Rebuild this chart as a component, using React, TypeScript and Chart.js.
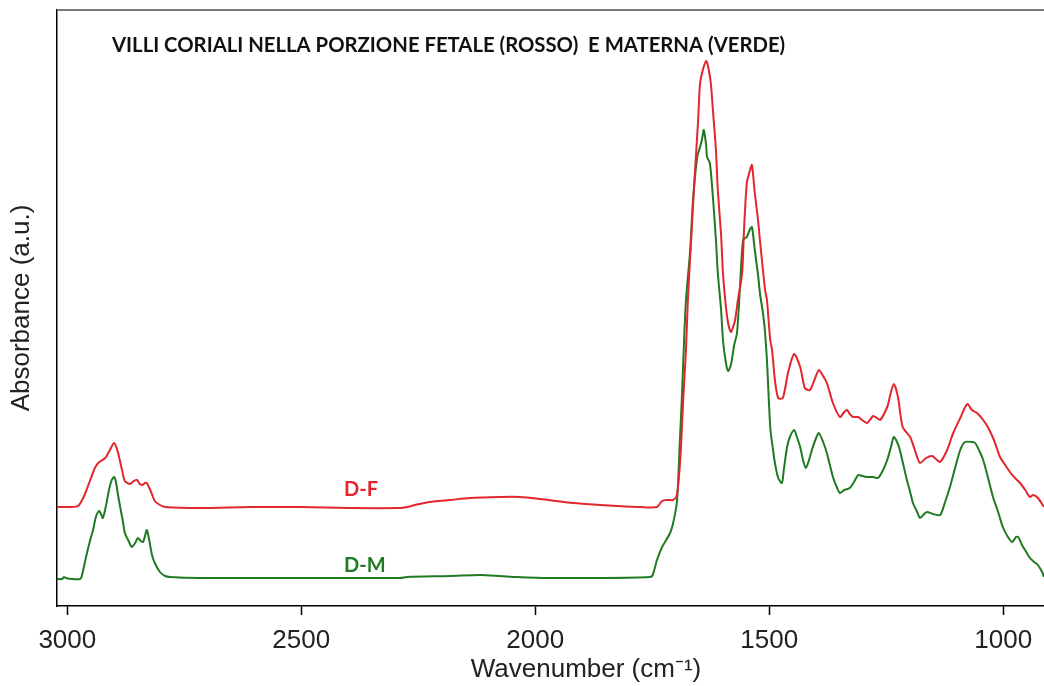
import React, { useEffect, useRef } from "react";
import { Chart, registerables } from "chart.js";

Chart.register(...registerables);

const chartTitle = "VILLI CORIALI NELLA PORZIONE FETALE (ROSSO)  E MATERNA (VERDE)";
const xAxisTitle = "Wavenumber (cm\u207B\u00B9)";
const yAxisTitle = "Absorbance (a.u.)";
const xTickValues = [3000, 2500, 2000, 1500, 1000];

// D-F (fetal portion, red)
const dfWavenumber = [
  3022, 2994, 2977, 2964, 2951, 2941, 2934, 2919, 2909, 2900, 2892, 2883, 2877, 2866, 2858, 2851, 2845, 2840, 2834, 2830,
  2821, 2813, 2802, 2791, 2716, 2610, 2503, 2396, 2289, 2274, 2257, 2225, 2182, 2140, 2075, 2033, 1990, 1919, 1862, 1825,
  1776, 1740, 1729, 1716, 1706, 1699, 1695, 1689, 1684, 1678, 1674, 1667, 1659, 1652, 1648, 1642, 1635, 1631, 1625, 1620,
  1614, 1610, 1603, 1599, 1593, 1588, 1582, 1578, 1573, 1567, 1558, 1554, 1548, 1541, 1537, 1531, 1524, 1520, 1509, 1505,
  1498, 1494, 1488, 1481, 1471, 1460, 1447, 1434, 1424, 1413, 1402, 1394, 1385, 1377, 1364, 1349, 1340, 1334, 1328, 1321,
  1310, 1302, 1291, 1278, 1270, 1263, 1248, 1242, 1234, 1225, 1215, 1199, 1189, 1178, 1165, 1152, 1144, 1135, 1120, 1107,
  1092, 1077, 1067, 1056, 1043, 1033, 1020, 1007, 996, 986, 975, 964, 953, 943, 936, 926, 913,
];
const dfAbsorbance = [
  99, 99, 100, 110, 126, 138, 143, 148, 156, 163, 154, 136, 125, 122, 125, 126, 122, 121, 123, 123,
  114, 105, 101, 99, 98, 99, 99, 98, 98, 99, 101, 104, 106, 108, 109, 109, 107, 103, 101, 100,
  99, 99, 105, 106, 106, 109, 119, 156, 206, 256, 306, 366, 433, 486, 522, 536, 545, 540, 523, 493,
  456, 416, 371, 333, 301, 283, 274, 278, 286, 306, 333, 376, 423, 436, 441, 413, 386, 366, 316, 306,
  266, 256, 226, 208, 208, 233, 252, 239, 218, 216, 228, 236, 230, 223, 203, 189, 194, 196, 192, 189,
  189, 186, 183, 190, 188, 186, 199, 210, 222, 209, 179, 169, 156, 143, 148, 150, 147, 144, 156, 173,
  188, 202, 196, 193, 186, 179, 166, 149, 141, 134, 128, 123, 116, 109, 111, 108, 99,
];

// D-M (maternal portion, green)
const dmWavenumber = [
  3022, 3011, 3007, 3003, 2990, 2973, 2969, 2960, 2951, 2945, 2939, 2932, 2928, 2924, 2917, 2911, 2905, 2900, 2896, 2892,
  2887, 2881, 2877, 2870, 2862, 2855, 2849, 2843, 2838, 2834, 2830, 2825, 2819, 2813, 2802, 2791, 2781, 2716, 2610, 2503,
  2396, 2289, 2274, 2182, 2118, 2075, 2039, 1969, 1862, 1755, 1749, 1740, 1729, 1712, 1704, 1697, 1691, 1687, 1682, 1678,
  1669, 1663, 1654, 1648, 1644, 1640, 1635, 1633, 1627, 1620, 1614, 1610, 1603, 1599, 1593, 1588, 1582, 1575, 1569, 1563,
  1556, 1548, 1541, 1537, 1531, 1524, 1520, 1513, 1509, 1505, 1498, 1492, 1488, 1481, 1473, 1469, 1462, 1456, 1447, 1441,
  1434, 1428, 1422, 1415, 1409, 1400, 1394, 1385, 1377, 1364, 1355, 1349, 1340, 1328, 1319, 1310, 1302, 1291, 1278, 1268,
  1259, 1248, 1240, 1234, 1227, 1221, 1212, 1206, 1199, 1193, 1184, 1178, 1169, 1163, 1150, 1135, 1125, 1114, 1103, 1092,
  1082, 1067, 1060, 1050, 1043, 1033, 1022, 1011, 1001, 990, 981, 973, 968, 960, 951, 943, 934, 926, 917, 913,
];
const dmAbsorbance = [
  27, 27, 29, 28, 27, 27, 30, 49, 66, 76, 89, 95, 92, 88, 101, 116, 126, 129, 124, 112,
  99, 84, 73, 66, 59, 63, 68, 65, 64, 70, 76, 66, 51, 43, 34, 30, 29, 28, 28, 28,
  28, 28, 29, 30, 31, 30, 29, 28, 28, 29, 31, 46, 59, 73, 86, 106, 166, 206, 266, 306,
  356, 406, 449, 459, 466, 476, 461, 449, 443, 406, 366, 333, 296, 266, 244, 235, 241, 261, 273, 316,
  366, 369, 377, 379, 356, 331, 313, 291, 273, 246, 179, 156, 143, 128, 123, 136, 159, 169, 176, 169,
  159, 146, 138, 146, 156, 168, 173, 164, 153, 129, 118, 113, 116, 118, 124, 131, 130, 129, 129, 128,
  134, 146, 159, 169, 164, 156, 138, 126, 114, 103, 94, 88, 92, 94, 92, 91, 103, 119, 138, 156,
  164, 164, 163, 154, 146, 129, 109, 94, 79, 69, 64, 69, 69, 61, 54, 48, 44, 41, 34, 29,
];

const seriesLabels = ["D-F", "D-M"];
const seriesColors = ["#e3262d", "#1f7a22"];

export default function App() {
  const canvasRef = useRef<HTMLCanvasElement | null>(null);

  useEffect(() => {
    const canvas = canvasRef.current;
    if (!canvas) return;

    const overlay = {
      id: "overlay",
      afterDraw(chart: any) {
        const { ctx, chartArea } = chart;
        ctx.save();
        // top frame line
        ctx.strokeStyle = "#7a7a7a";
        ctx.lineWidth = 2;
        ctx.beginPath();
        ctx.moveTo(chartArea.left, chartArea.top);
        ctx.lineTo(chartArea.right, chartArea.top);
        ctx.stroke();
        // title
        ctx.fillStyle = "#111";
        ctx.font = "bold 20.3px Lato";
        ctx.textAlign = "left";
        ctx.textBaseline = "alphabetic";
        ctx.fillText(chartTitle, 112, 52);
        // series labels
        ctx.font = "bold 20px Lato";
        ctx.fillStyle = seriesColors[0];
        ctx.fillText(seriesLabels[0], 344, 496);
        ctx.fillStyle = seriesColors[1];
        ctx.fillText(seriesLabels[1], 344, 572);
        // x axis title
        ctx.fillStyle = "#222";
        ctx.font = "26px 'Liberation Sans', Arial";
        ctx.textAlign = "center";
        ctx.textBaseline = "middle";
        ctx.fillText(xAxisTitle, 586, 670);
        ctx.restore();
      },
    };

    const chart = new Chart(canvas, {
      type: "line",
      data: {
        datasets: [
          {
            label: seriesLabels[0],
            data: dfWavenumber.map((x, i) => ({ x, y: dfAbsorbance[i] })),
            borderColor: seriesColors[0],
            borderWidth: 2,
            pointRadius: 0,
            tension: 0.25,
            fill: false,
          },
          {
            label: seriesLabels[1],
            data: dmWavenumber.map((x, i) => ({ x, y: dmAbsorbance[i] })),
            borderColor: seriesColors[1],
            borderWidth: 2,
            pointRadius: 0,
            tension: 0.25,
            fill: false,
          },
        ],
      },
      options: {
        responsive: false,
        animation: false,
        layout: { padding: { top: 10, right: 0, left: 0, bottom: 0 } },
        plugins: {
          legend: { display: false },
          tooltip: { enabled: false },
          title: { display: false },
        },
        scales: {
          x: {
            type: "linear",
            reverse: true,
            min: 913,
            max: 3022,
            afterBuildTicks: (scale: any) => {
              scale.ticks = xTickValues.map((v) => ({ value: v }));
            },
            afterFit: (scale: any) => {
              scale.height = 80;
            },
            grid: {
              drawOnChartArea: false,
              drawTicks: true,
              tickLength: 9,
              tickColor: "#000",
              tickWidth: 1.5,
            },
            border: { color: "#000", width: 1.5 },
            ticks: {
              color: "#222",
              font: { family: "'Liberation Sans', Arial", size: 26 },
              padding: 10,
              maxRotation: 0,
              callback: (v: any) => String(v),
            },
            title: { display: false },
          },
          y: {
            type: "linear",
            min: 0,
            max: 596,
            afterFit: (scale: any) => {
              scale.width = 57;
            },
            grid: { drawOnChartArea: false, drawTicks: false },
            border: { color: "#000", width: 1.5 },
            ticks: { display: false },
            title: {
              display: true,
              text: yAxisTitle,
              color: "#222",
              font: { family: "'Liberation Sans', Arial", size: 26 },
              padding: { top: 6, bottom: 0 },
            },
          },
        },
      },
      plugins: [overlay],
    });

    return () => chart.destroy();
  }, []);

  return (
    <div style={{ position: "fixed", left: 0, top: 0, width: 1044, height: 686, background: "#fff" }}>
      <canvas ref={canvasRef} width={1044} height={686} />
    </div>
  );
}
